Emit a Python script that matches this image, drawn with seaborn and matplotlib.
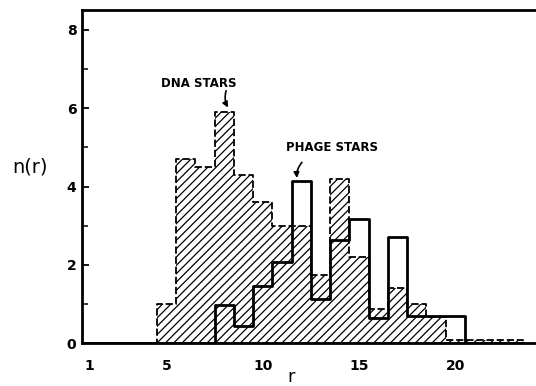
import matplotlib
matplotlib.use("Agg")
import matplotlib.pyplot as plt
import seaborn as sns
import pandas as pd

# ---- data ----
dna_r = [5, 6, 7, 8, 9, 10, 11, 12, 13, 14, 15, 16, 17, 18, 19, 20, 21, 22, 23]
dna_n = [1.0, 4.7, 4.5, 5.9, 4.3, 3.6, 3.0, 3.0, 1.75, 4.2, 2.2, 0.87, 1.4, 1.0, 0.66, 0.09, 0.09, 0.09, 0.09]
phage_r = [8, 9, 10, 11, 12, 13, 14, 15, 16, 17, 18, 19, 20]
phage_n = [0.97, 0.44, 1.46, 2.08, 4.15, 1.13, 2.65, 3.17, 0.64, 2.72, 0.70, 0.70, 0.70]
bin_range = (0.5, 23.5)
x_ticks = [1, 5, 10, 15, 20]
x_ticklabels = ["1", "5", "10", "15", "20"]
y_ticks = [0, 2, 4, 6, 8]
y_minor = [1, 3, 5, 7]

sns.set_style("ticks")
plt.rcParams["font.family"] = ["DejaVu Sans"]
plt.rcParams["hatch.linewidth"] = 0.9
for key in ["text.color", "axes.labelcolor", "xtick.color", "ytick.color", "axes.edgecolor"]:
    plt.rcParams[key] = "black"

fig = plt.figure(figsize=(5.36, 3.86), dpi=100)
ax = fig.add_axes([0.153, 0.1106, 0.847, 0.8635])

dna_df = pd.DataFrame({"r": dna_r, "n": dna_n})
phage_df = pd.DataFrame({"r": phage_r, "n": phage_n})

sns.histplot(data=dna_df, x="r", weights="n", binwidth=1, binrange=bin_range,
             element="step", fill=True, facecolor="white", edgecolor="black",
             hatch="////", linestyle=(0, (4, 1.6)), linewidth=1.3, ax=ax, zorder=2)
sns.histplot(data=phage_df, x="r", weights="n", binwidth=1, binrange=bin_range,
             element="step", fill=False, color="black", linewidth=2.0, ax=ax, zorder=3)

ax.set_xlim(0.605, 24.19)
ax.set_ylim(0, 8.51)

ax.set_xticks(x_ticks)
ax.set_xticklabels(x_ticklabels, fontweight="bold", fontsize=10)
ax.set_yticks(y_ticks)
ax.set_yticklabels([str(v) for v in y_ticks], fontweight="bold", fontsize=10)
ax.set_yticks(y_minor, minor=True)
ax.tick_params(axis="x", length=0, pad=11)
ax.tick_params(axis="y", which="major", direction="in", length=5, width=1.3, pad=4)
ax.tick_params(axis="y", which="minor", direction="in", length=4, width=1.1)

for side in ["left", "bottom", "top"]:
    ax.spines[side].set_linewidth(2.0)
    ax.spines[side].set_zorder(5)
ax.spines["right"].set_visible(False)

ax.set_ylabel("n(r)", rotation=0, fontsize=14, ha="center", va="center")
ax.yaxis.set_label_coords(-0.1145, 0.528)
ax.set_xlabel("r", fontsize=13, va="center")
ax.xaxis.set_label_coords(0.46, -0.10)

ax.text(6.68, 6.64, "DNA STARS", fontsize=8.5, fontweight="bold", ha="center", va="center")
ax.annotate("", xy=(8.19, 6.02), xytext=(8.09, 6.45),
            arrowprops=dict(arrowstyle="-|>", color="black", lw=1.2,
                            shrinkA=0, shrinkB=0, mutation_scale=8,
                            connectionstyle="arc3,rad=0.2"))
ax.text(13.6, 5.0, "PHAGE STARS", fontsize=8.5, fontweight="bold", ha="center", va="center")
ax.annotate("", xy=(11.77, 4.22), xytext=(12.03, 4.62),
            arrowprops=dict(arrowstyle="-|>", color="black", lw=1.2,
                            shrinkA=0, shrinkB=0, mutation_scale=8,
                            connectionstyle="arc3,rad=0.2"))

fig.savefig("out.png", dpi=100)
